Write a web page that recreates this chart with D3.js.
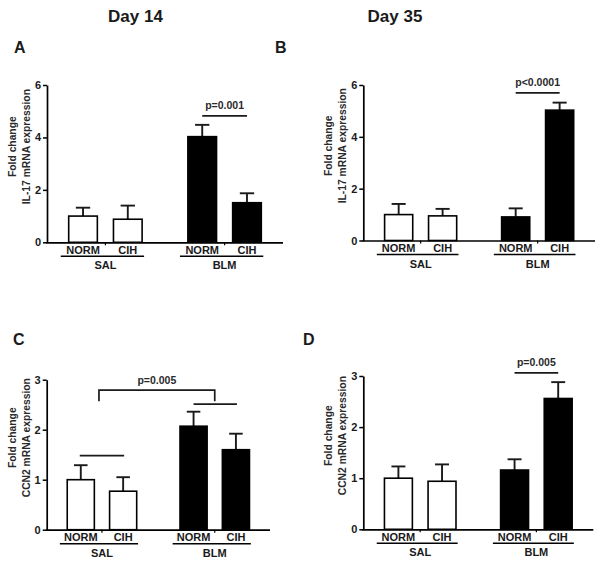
<!DOCTYPE html>
<html>
<head>
<meta charset="utf-8">
<script src="https://cdn.jsdelivr.net/npm/d3@7"></script>
<style>
  html, body { margin: 0; padding: 0; background: #fff; }
  svg { display: block; }
  text { font-family: "Liberation Sans", Arial, sans-serif; }
</style>
</head>
<body>
<svg id="chart" width="604" height="567"></svg>
<script>
// ---------- data ----------
const groups = ["SAL", "BLM"];
const conditions = ["NORM", "CIH"];
const dayTitles = ["Day 14", "Day 35"];
const panelLetters = ["A", "B", "C", "D"];
const yTitleIL17 = ["Fold change", "IL-17 mRNA expression"];
const yTitleCCN2 = ["Fold change", "CCN2 mRNA expression"];
const yTicksIL17 = [0, 2, 4, 6];
const yTicksCCN2 = [0, 1, 2, 3];

// order: SAL-NORM, SAL-CIH, BLM-NORM, BLM-CIH
const il17Day14Mean = [1.00, 0.88, 4.03, 1.51];
const il17Day14Sem  = [0.32, 0.52, 0.45, 0.36];
const il17Day35Mean = [1.00, 0.95, 0.91, 5.03];
const il17Day35Sem  = [0.41, 0.27, 0.33, 0.29];
const ccn2Day14Mean = [1.00, 0.77, 2.07, 1.60];
const ccn2Day14Sem  = [0.29, 0.28, 0.29, 0.32];
const ccn2Day35Mean = [1.00, 0.94, 1.16, 2.56];
const ccn2Day35Sem  = [0.23, 0.33, 0.21, 0.32];

const pLabels = ["p=0.001", "p<0.0001", "p=0.005", "p=0.005"];
// heights (in data units) of the significance lines
const sigLevelA = 4.82;
const sigLevelB = 5.70;
const sigLevelD = 3.06;
const sigSalLineC = 1.48, sigBlmLineC = 2.51, sigBracketTopC = 2.79, sigBracketLegC = 2.57;

// ---------- layout ----------
const panels = [
  {letter: panelLetters[0], mean: il17Day14Mean, sem: il17Day14Sem, ticks: yTicksIL17, title: yTitleIL17,
   x0: 47, x1: 283, yb: 242.3, yt: 85, lx: 14, ly: 53},
  {letter: panelLetters[1], mean: il17Day35Mean, sem: il17Day35Sem, ticks: yTicksIL17, title: yTitleIL17,
   x0: 363.3, x1: 595, yb: 240.5, yt: 85, lx: 275, ly: 53},
  {letter: panelLetters[2], mean: ccn2Day14Mean, sem: ccn2Day14Sem, ticks: yTicksCCN2, title: yTitleCCN2,
   x0: 46.7, x1: 270, yb: 529.7, yt: 379.7, lx: 13, ly: 345},
  {letter: panelLetters[3], mean: ccn2Day35Mean, sem: ccn2Day35Sem, ticks: yTicksCCN2, title: yTitleCCN2,
   x0: 363.3, x1: 593.3, yb: 529.3, yt: 376, lx: 303, ly: 345}
];

const svg = d3.select("#chart");
const ink = "#1a1a1a";

// Day titles
svg.selectAll("text.day").data(dayTitles).join("text")
  .attr("class", "day")
  .attr("x", (d, i) => i === 0 ? 135.5 : 395)
  .attr("y", 21.7)
  .attr("text-anchor", "middle")
  .attr("font-size", 17).attr("font-weight", "bold").attr("fill", ink)
  .text(d => d);

panels.forEach((p, pi) => {
  const g = svg.append("g");
  const y = d3.scaleLinear().domain([0, d3.max(p.ticks)]).range([p.yb, p.yt]);
  const gx = d3.scaleBand().domain(groups).range([p.x0, p.x1]).paddingInner(0.2).paddingOuter(0.09);
  const ix = d3.scaleBand().domain(conditions).range([0, gx.bandwidth()]).paddingInner(0.36).paddingOuter(0.245);

  const rows = [];
  groups.forEach((gr, gi) => conditions.forEach((c, ci) => {
    const k = gi * 2 + ci;
    rows.push({group: gr, cond: c, gi, mean: p.mean[k], sem: p.sem[k]});
  }));
  const bx = d => gx(d.group) + ix(d.cond);
  const bw = ix.bandwidth();
  const cx = d => bx(d) + bw / 2;

  // panel letter
  g.append("text").attr("x", p.lx).attr("y", p.ly)
    .attr("font-size", 16).attr("font-weight", "bold").attr("fill", ink).text(p.letter);

  // error bars (upper only)
  g.selectAll("line.err").data(rows).join("line")
    .attr("x1", cx).attr("x2", cx)
    .attr("y1", d => y(d.mean)).attr("y2", d => y(d.mean + d.sem))
    .attr("stroke", ink).attr("stroke-width", 1.9);
  g.selectAll("line.cap").data(rows).join("line")
    .attr("x1", d => cx(d) - bw / 4).attr("x2", d => cx(d) + bw / 4)
    .attr("y1", d => y(d.mean + d.sem)).attr("y2", d => y(d.mean + d.sem))
    .attr("stroke", ink).attr("stroke-width", 1.9);

  // bars
  g.selectAll("rect.bar").data(rows).join("rect")
    .attr("x", bx).attr("width", bw)
    .attr("y", d => y(d.mean)).attr("height", d => y(0) - y(d.mean))
    .attr("fill", d => d.group === "SAL" ? "#fff" : "#000")
    .attr("stroke", "#000").attr("stroke-width", 1.6);

  // y axis
  const ya = g.append("g").attr("transform", `translate(${p.x0},0)`)
    .call(d3.axisLeft(y).tickValues(p.ticks).tickFormat(d3.format("d")).tickSize(4).tickSizeOuter(0).tickPadding(2));
  ya.select(".domain").attr("stroke", "#000").attr("stroke-width", 1.7);
  ya.selectAll(".tick line").attr("stroke", "#000").attr("stroke-width", 1.5);
  ya.selectAll(".tick text").attr("font-size", 11).attr("font-weight", "bold").attr("fill", ink)
    .attr("font-family", "'Liberation Sans', Arial, sans-serif");

  // x axis with small ticks at group centres
  const xa = g.append("g").attr("transform", `translate(0,${p.yb})`)
    .call(d3.axisBottom(gx).tickSize(3).tickSizeOuter(0).tickFormat(""));
  xa.select(".domain").attr("stroke", "#000").attr("stroke-width", 1.7)
    .attr("d", `M${p.x0 - 0.85},0.5H${p.x1}`);
  xa.selectAll(".tick line").attr("stroke", "#000").attr("stroke-width", 1.2);

  // condition labels
  g.selectAll("text.cond").data(rows).join("text")
    .attr("x", cx).attr("y", p.yb + 11.2)
    .attr("text-anchor", "middle").attr("font-size", 11).attr("font-weight", "bold").attr("fill", ink)
    .text(d => d.cond);
  // group underline + group labels
  g.selectAll("line.grp").data(groups).join("line")
    .attr("x1", d => gx(d) + 3).attr("x2", d => gx(d) + gx.bandwidth() - 9)
    .attr("y1", p.yb + 14).attr("y2", p.yb + 14)
    .attr("stroke", "#000").attr("stroke-width", 1.5);
  g.selectAll("text.grp").data(groups).join("text")
    .attr("x", d => gx(d) + gx.bandwidth() / 2).attr("y", p.yb + 27)
    .attr("text-anchor", "middle").attr("font-size", 11).attr("font-weight", "bold").attr("fill", ink)
    .text(d => d);

  // y title
  const ymid = (p.yb + p.yt) / 2 - 17;
  p.title.forEach((t, li) => {
    g.append("text")
      .attr("transform", `translate(${p.x0 + (li === 0 ? -31 : -17)},${ymid}) rotate(-90)`)
      .attr("text-anchor", "middle").attr("font-size", 10.3).attr("font-weight", "bold").attr("fill", "#2a2a2a")
      .text(t);
  });

  // significance marks
  const blmN = rows[2], blmC = rows[3], salN = rows[0], salC = rows[1];
  const hline = (xa1, xa2, yy) => g.append("line").attr("x1", xa1).attr("x2", xa2)
    .attr("y1", y(yy)).attr("y2", y(yy)).attr("stroke", ink).attr("stroke-width", 1.7);
  const ptext = (xx, yy, t) => g.append("text").attr("x", xx).attr("y", yy)
    .attr("text-anchor", "middle").attr("font-size", 10.5).attr("font-weight", "bold").attr("fill", "#2a2a2a").text(t);

  if (pi === 0 || pi === 1 || pi === 3) {
    const lvl = pi === 0 ? sigLevelA : pi === 1 ? sigLevelB : sigLevelD;
    hline(cx(blmN), cx(blmC), lvl);
    ptext((cx(blmN) + cx(blmC)) / 2, y(lvl) - 7, pLabels[pi]);
  } else {
    hline(cx(salN) - 1, cx(salC) + 1, sigSalLineC);
    hline(cx(blmN), cx(blmC) + 1, sigBlmLineC);
    const xl = gx("SAL") + gx.bandwidth() / 2 - 3;
    const xr = gx("BLM") + gx.bandwidth() / 2;
    g.append("path")
      .attr("d", `M${xl},${y(sigBracketLegC)}V${y(sigBracketTopC)}H${xr}V${y(sigBracketLegC)}`)
      .attr("fill", "none").attr("stroke", ink).attr("stroke-width", 1.7);
    ptext((xl + xr) / 2, y(sigBracketTopC) - 6, pLabels[pi]);
  }
});
</script>
</body>
</html>
